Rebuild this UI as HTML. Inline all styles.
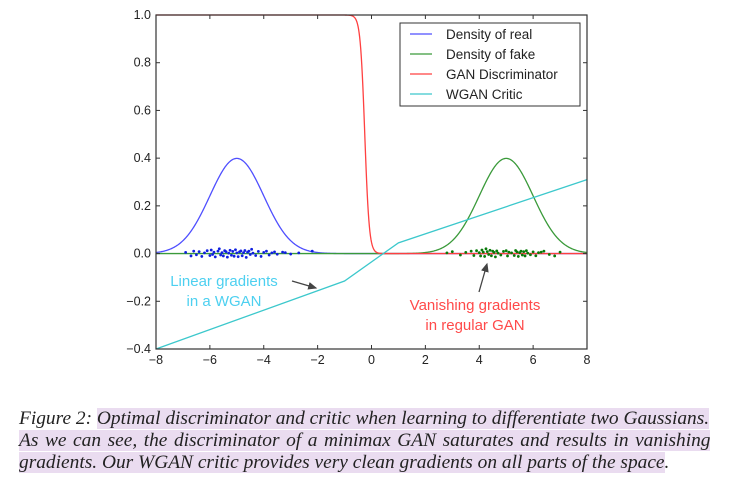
<!DOCTYPE html>
<html><head><meta charset="utf-8"><style>
body{margin:0;background:#fff;width:736px;height:481px;overflow:hidden;position:relative}
svg{position:absolute;left:0;top:0}
.cap{position:absolute;left:19px;font-family:"Liberation Serif",serif;font-style:italic;font-size:19.4px;line-height:22px;color:#222;white-space:nowrap}
.hl{background:#eadcf0}
</style></head><body>
<svg id="chart" width="736" height="400"></svg>
<div class="cap" style="top:408px">Figure 2: <span class="hl">Optimal discriminator and critic when learning to differentiate two Gaussians.</span></div>
<div class="cap" style="top:430px;word-spacing:1.7px"><span class="hl">As we can see, the discriminator of a minimax GAN saturates and results in vanishing</span></div>
<div class="cap" style="top:452px"><span class="hl">gradients. Our WGAN critic provides very clean gradients on all parts of the space</span>.</div>
<script>
const xTicks=[-8,-6,-4,-2,0,2,4,6,8];
const yTicks=[-0.4,-0.2,0.0,0.2,0.4,0.6,0.8,1.0];
const yTickLabels=["\u22120.4","\u22120.2","0.0","0.2","0.4","0.6","0.8","1.0"];
const realMean=-5, fakeMean=5, sigma=1;
const criticX=[-8,-1,1,8];
const criticY=[-0.4,-0.115,0.045,0.31];
const discCenter=-0.25, discSteep=12;
const realSamples=[-6.9,-6.7,-6.6,-6.5,-6.4,-6.3,-6.2,-6.1,-6.0,-5.95,-5.9,-5.85,-5.8,-5.7,-5.65,-5.6,-5.55,-5.5,-5.45,-5.4,-5.35,-5.3,-5.25,-5.2,-5.15,-5.1,-5.05,-5.0,-4.95,-4.9,-4.85,-4.8,-4.75,-4.7,-4.65,-4.6,-4.55,-4.5,-4.45,-4.4,-4.3,-4.2,-4.1,-4.0,-3.9,-3.8,-3.7,-3.6,-3.5,-3.3,-3.2,-3.0,-2.7,-2.2];
const realJitter=[0.005,-0.01,0.01,-0.005,0.008,-0.012,0.003,0.012,-0.008,0.015,-0.004,0.006,-0.014,0.01,0.02,-0.006,0.004,-0.01,0.012,0.008,-0.015,0.002,0.014,-0.007,0.009,-0.011,0.016,0.003,-0.013,0.007,0.011,-0.009,0.004,0.013,-0.016,0.006,0.01,-0.004,0.018,0.002,-0.008,0.009,-0.012,0.005,0.01,-0.006,0.003,0.007,-0.003,0.006,0.004,-0.002,0.003,0.01];
const fakeSamples=[2.8,3.0,3.3,3.5,3.7,3.8,3.9,4.0,4.05,4.1,4.15,4.2,4.25,4.3,4.35,4.4,4.45,4.5,4.55,4.6,4.65,4.7,4.8,4.9,5.0,5.05,5.1,5.2,5.3,5.35,5.4,5.45,5.5,5.55,5.6,5.65,5.7,5.75,5.8,5.9,6.0,6.1,6.2,6.3,6.4,6.6,6.8,7.0];
const fakeJitter=[0.003,0.008,-0.006,0.005,0.01,-0.008,0.012,0.004,-0.01,0.015,0.006,-0.012,0.02,0.008,-0.004,0.014,-0.009,0.01,0.005,-0.014,0.011,0.002,-0.006,0.009,0.012,-0.01,0.006,0.003,-0.008,0.013,0.007,-0.012,0.004,0.01,-0.006,0.008,-0.01,0.012,0.002,-0.005,0.007,-0.009,0.004,0.006,0.01,-0.004,-0.01,0.006];

const L=156,R=587,T=15,B=349;
const X=v=>L+(v+8)/16*(R-L);
const Y=v=>B-(v+0.4)/1.4*(B-T);
const NS='http://www.w3.org/2000/svg';
const svg=document.getElementById('chart');
function el(tag,attrs,parent){const e=document.createElementNS(NS,tag);for(const k in attrs)e.setAttribute(k,attrs[k]);(parent||svg).appendChild(e);return e;}
function curve(f){let d='';for(let i=0;i<=800;i++){const x=-8+16*i/800;d+=(i?'L':'M')+X(x).toFixed(2)+' '+Y(f(x)).toFixed(2);}return d;}
const gauss=m=>x=>Math.exp(-((x-m)**2)/(2*sigma*sigma))/(sigma*Math.sqrt(2*Math.PI));

let p;
p=el('path',{d:curve(gauss(realMean)),fill:'none',stroke:'#4f4fff','stroke-width':1.3});

p=el('path',{d:curve(gauss(fakeMean)),fill:'none',stroke:'#3a9a3a','stroke-width':1.3});

p=el('path',{d:curve(x=>1/(1+Math.exp(discSteep*(x-discCenter)))),fill:'none',stroke:'#ff4040','stroke-width':1.3});

p=el('path',{d:criticX.map((x,i)=>(i?'L':'M')+X(x)+' '+Y(criticY[i])).join(''),fill:'none',stroke:'#3cc8cc','stroke-width':1.3});


realSamples.forEach((x,i)=>{const c=el('circle',{cx:X(x),cy:Y(realJitter[i]),r:1.4,fill:'#1020e0'});
});
fakeSamples.forEach((x,i)=>{const c=el('circle',{cx:X(x),cy:Y(fakeJitter[i]),r:1.4,fill:'#0a7a0a'});
});

p=el('rect',{x:L,y:T,width:R-L,height:B-T,fill:'none',stroke:'#333','stroke-width':1.2});

xTicks.forEach(v=>{
 el('line',{x1:X(v),x2:X(v),y1:B,y2:B-4,stroke:'#333'});el('line',{x1:X(v),x2:X(v),y1:T,y2:T+4,stroke:'#333'});
 const t=el('text',{x:X(v),y:B+15,'text-anchor':'middle','font-family':'Liberation Sans, sans-serif','font-size':12.5,fill:'#222'});
 t.textContent=(v<0?'\u2212':'')+Math.abs(v);
 
});
yTicks.forEach((v,i)=>{
 el('line',{x1:L,x2:L+4,y1:Y(v),y2:Y(v),stroke:'#333'});el('line',{x1:R,x2:R-4,y1:Y(v),y2:Y(v),stroke:'#333'});
 const t=el('text',{x:L-5,y:Y(v)+4,'text-anchor':'end','font-family':'Liberation Sans, sans-serif','font-size':12.5,fill:'#222'});
 t.textContent=yTickLabels[i];
 
});

const lg=el('g',{});
el('rect',{x:400,y:23,width:180,height:83,fill:'#fff',stroke:'#333','stroke-width':1},lg);
const legNames=['Density of real','Density of fake','GAN Discriminator','WGAN Critic'];
const legColors=['#4f4fff','#3a9a3a','#ff4040','#3cc8cc'];
legNames.forEach((n,i)=>{const y=34+i*20;
 const g=el('g',{},lg);
 el('line',{x1:410,x2:432,y1:y,y2:y,stroke:legColors[i],'stroke-width':1.3},g);
 const t=el('text',{x:446,y:y+5,'font-family':'Liberation Sans, sans-serif','font-size':13.5,fill:'#222'},g);t.textContent=n;});

function txt(s,x,y,c,name){const t=el('text',{x:x,y:y,'text-anchor':'middle','font-family':'Liberation Sans, sans-serif','font-size':15,fill:c});t.textContent=s;}
txt('Linear gradients',224,286,'#4dd0f0','wgan-annotation-line1');
txt('in a WGAN',224,306,'#4dd0f0','wgan-annotation-line2');
txt('Vanishing gradients',475,310,'#ff4a4a','gan-annotation-line1');
txt('in regular GAN',475,330,'#ff4a4a','gan-annotation-line2');
el('defs',{}).innerHTML='<marker id="ah" markerWidth="8" markerHeight="8" refX="6" refY="4" orient="auto"><path d="M0,1 L7,4 L0,7 Z" fill="#444"/></marker>';
p=el('line',{x1:292,y1:281,x2:316,y2:288,stroke:'#444','stroke-width':1.3,'marker-end':'url(#ah)'});

p=el('line',{x1:479,y1:292,x2:487,y2:264,stroke:'#444','stroke-width':1.3,'marker-end':'url(#ah)'});

</script>
</body></html>
